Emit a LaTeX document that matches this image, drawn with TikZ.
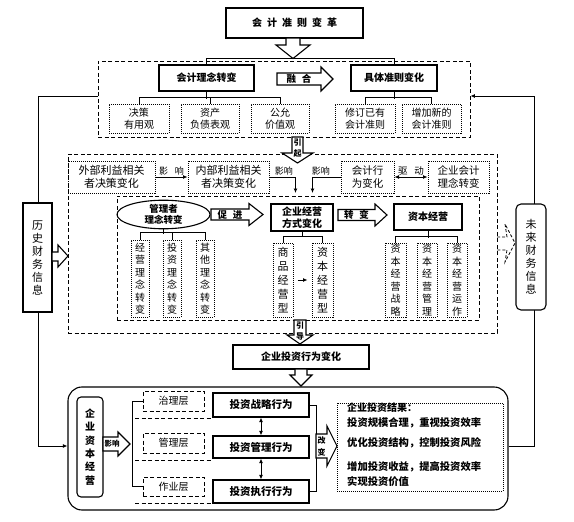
\documentclass[tikz,border=0pt]{standalone}
\usepackage{fontspec}
\setmainfont{Noto Sans CJK SC}
\usetikzlibrary{arrows.meta,shapes.geometric}
\begin{document}
\begin{tikzpicture}[x=1pt,y=-1pt,
  every node/.style={inner sep=0pt, align=center},
  reg/.style={font=\fontsize{10}{12}\selectfont},
  sbox/.style={draw, line width=1.1pt, font=\bfseries\fontsize{10}{11.5}\selectfont},
  dotbox/.style={draw, densely dotted, line width=1pt, font=\fontsize{10}{12}\selectfont},
  vbox/.style={draw, densely dotted, line width=1pt, font=\fontsize{10}{12.5}\selectfont},
  dashbox/.style={draw, dash pattern=on 4pt off 2.5pt, line width=0.9pt},
  conn/.style={line width=0.9pt},
  arr/.style={conn, -{Latex[length=4.5pt,width=4pt]}},
  darr/.style={conn, {Latex[length=4.5pt,width=4pt]}-{Latex[length=4.5pt,width=4pt]}},
  harrow/.style={draw, line width=1.1pt, fill=white, line join=miter},
  lbl/.style={font=\fontsize{9}{10}\selectfont},
  atxt/.style={font=\bfseries\fontsize{9.5}{10}\selectfont},
  stxt/.style={font=\bfseries\fontsize{8}{8}\selectfont},
]
\useasboundingbox (0,0) rectangle (574,522);

% ---------- top ----------
\node[sbox, minimum width=137, minimum height=30] (top) at (294.5,23)
  {会\hspace{5pt}计\hspace{5pt}准\hspace{5pt}则\hspace{5pt}变\hspace{5pt}革};
\node[dashbox, minimum width=372, minimum height=76] (frame1) at (284,99) {};

\node[sbox, minimum width=95, minimum height=26] (lnz) at (206.5,78) {会计理念转变};
\node[sbox, minimum width=86, minimum height=26] (jtz) at (394,78) {具体准则变化};
\draw[conn] (lnz.north) -- ++(0,-6) -| (jtz.north);
\draw[harrow] (286,38) -- (300,38) -- (300,45) -- (310,45) -- (293,58.5) -- (276,45) -- (286,45) -- cycle;

\draw[harrow] (277,73) -- (321,73) -- (321,67) -- (333,79) -- (321,91) -- (321,85) -- (277,85) -- cycle;
\node[atxt] (rh) at (299,79) {融\hspace{6pt}合};

\node[dotbox, minimum width=60, minimum height=29] (b1) at (139,118.5) {决策\\有用观};
\node[dotbox, minimum width=58, minimum height=29] (b2) at (210,118.5) {资产\\负债表观};
\node[dotbox, minimum width=58, minimum height=29] (b3) at (280,118.5) {公允\\价值观};
\node[dotbox, minimum width=60, minimum height=29] (b4) at (365,118.5) {修订已有\\会计准则};
\node[dotbox, minimum width=59, minimum height=29] (b5) at (431.5,118.5) {增加新的\\会计准则};
\draw[conn] (b1.north) -- ++(0,-6) -| (b3.north);
\draw[conn] (b2.north) -- ++(0,-6);
\draw[conn] (lnz.south) -- ++(0,7);
\draw[conn] (b4.north) -- ++(0,-6) -| (b5.north);
\draw[conn] (jtz.south) -- ++(0,7);

% ---------- middle ----------
\node[dashbox, minimum width=429, minimum height=179] (frame2) at (282.5,243.5) {};
\node[dashbox, minimum width=362, minimum height=124] (frame3) at (298,258) {};

\node[dotbox, font=\fontsize{11}{13.5}\selectfont, minimum width=87, minimum height=32] (wb) at (111.5,177) {外部利益相关\\者决策变化};
\node[dotbox, font=\fontsize{11}{13.5}\selectfont, minimum width=81, minimum height=32] (nb) at (228.5,177) {内部利益相关\\者决策变化};
\node[dotbox, font=\fontsize{10.5}{13}\selectfont, minimum width=53, minimum height=32] (kx) at (367.5,177) {会计行\\为变化};
\node[dotbox, font=\fontsize{10.5}{13}\selectfont, minimum width=61, minimum height=32] (qk) at (458.5,177) {企业会计\\理念转变};

\draw[arr] (wb.east) -- node[above=1pt, lbl]{影\hspace{7pt}响} (nb.west);
\draw[arr] (nb.east) -- node[above=1pt, lbl, pos=0.55]{影响} ++(26,0) -- ++(0,16);
\draw[arr] (kx.west) -- node[above=1pt, lbl, pos=0.7]{影响} ++(-28,0) -- ++(0,16);
\draw[darr] (kx.east) -- node[above=1.5pt, lbl, font=\fontsize{9.5}{10}\selectfont]{驱\hspace{7pt}动} (qk.west);

\draw[harrow] (292,137) -- (303,137) -- (303,153) -- (313,153) -- (297.5,163) -- (282,153) -- (292,153) -- cycle;
\node[stxt] (yq1) at (297.5,143) {引};
\node[stxt] (yq2) at (297.5,153.5) {起};

\node[draw, ellipse, line width=1.1pt, minimum width=93, minimum height=27,
      font=\bfseries\fontsize{9.5}{11}\selectfont] (gl) at (163.5,214.5) {管理者\\理念转变};
\node[vbox, minimum width=18, minimum height=77] (v1) at (140,278.5) {经\\营\\理\\念\\转\\变};
\node[vbox, minimum width=18, minimum height=77] (v2) at (172,278.5) {投\\资\\理\\念\\转\\变};
\node[vbox, minimum width=18, minimum height=77] (v3) at (205,278.5) {其\\他\\理\\念\\转\\变};
\draw[conn] (v1.north) -- ++(0,-7) -| (v3.north);
\draw[conn] (v2.north) -- ++(0,-7);
\draw[conn] (gl.south) -- ++(0,5);

\draw[harrow] (211,209) -- (249,209) -- (249,203.5) -- (263,214.5) -- (249,225.5) -- (249,220) -- (211,220) -- cycle;
\node[atxt] (cj) at (230,214.5) {促\hspace{6pt}进};

\node[sbox, minimum width=62, minimum height=27] (jyfs) at (302,217.5) {企业经营\\方式变化};
\node[vbox, font=\fontsize{11}{14}\selectfont, minimum width=20, minimum height=74] (sp) at (283,280) {商\\品\\经\\营\\型};
\node[vbox, font=\fontsize{11}{14}\selectfont, minimum width=21, minimum height=74] (zb) at (322.5,280) {资\\本\\经\\营\\型};
\draw[conn] (sp.north) -- ++(0,-6) -| (zb.north);
\draw[conn] (jyfs.south) -- ++(0,5.5);
\draw[arr, shorten <=4pt, shorten >=4pt] (sp.east) -- (zb.west);

\draw[harrow] (338,209.5) -- (375,209.5) -- (375,204) -- (387,215) -- (375,226) -- (375,220.5) -- (338,220.5) -- cycle;
\node[atxt] (zbian) at (356.5,215) {转\hspace{6pt}变};

\node[sbox, minimum width=68, minimum height=26] (zbjy) at (428,217) {资本经营};
\node[vbox, minimum width=21, minimum height=74] (c1) at (395.5,280) {资\\本\\经\\营\\战\\略};
\node[vbox, minimum width=20, minimum height=74] (c2) at (427,280) {资\\本\\经\\营\\管\\理};
\node[vbox, minimum width=20, minimum height=74] (c3) at (457,280) {资\\本\\经\\营\\运\\作};
\draw[conn] (c1.north) -- ++(0,-6) -| (c3.north);
\draw[conn] (zbjy.south) -- ++(0,7);

\draw[harrow] (294,320) -- (306,320) -- (306,335) -- (313,335) -- (300,344) -- (287,335) -- (294,335) -- cycle;
\node[stxt] (yd1) at (300,326) {引};
\node[stxt] (yd2) at (300,336.5) {导};

% dashed hollow arrow to future info
\draw[dash pattern=on 3pt off 2pt, line width=0.8pt] (497,237) -- (507,237) -- (505,224) -- (515,243) -- (505,262) -- (507,250) -- (497,250);

% ---------- bottom ----------
\node[sbox, minimum width=136, minimum height=24] (tzbh) at (301,357) {企业投资行为变化};
\draw[harrow] (295,369) -- (307,369) -- (307,375) -- (312,375) -- (301,386) -- (290,375) -- (295,375) -- cycle;

\node[draw, line width=1.1pt, rounded corners=14pt, minimum width=440, minimum height=123] (bottom) at (288,448.5) {};

% side lines
\coordinate (L1) at (38,96);
\coordinate (L2) at (38,446);
\coordinate (R1) at (534,96);
\coordinate (R2) at (534,446);
\draw[arr] ([yshift=3pt]frame1.west) -- (L1) -- (L2) -- (L2 -| bottom.west);
\draw[arr] (bottom.east |- R2) -- (R2) -- (R1) -- ([yshift=3pt]frame1.east);

\node[draw, line width=1.1pt, fill=white, minimum width=29, minimum height=109,
      font=\fontsize{11}{13}\selectfont] (hist) at (37.5,257.5) {历\\史\\财\\务\\信\\息};
\node[draw, line width=1.1pt, fill=white, rounded corners=5pt, minimum width=30, minimum height=106,
      font=\fontsize{11}{13}\selectfont] (fut) at (531,257) {未\\来\\财\\务\\信\\息};
\draw[harrow] (52,252) -- (58,252) -- (58,245) -- (68,256) -- (58,267) -- (58,261) -- (52,261) -- cycle;

\node[draw, line width=1.1pt, rounded corners=4pt, minimum width=26, minimum height=100,
      font=\bfseries\fontsize{10}{13.4}\selectfont] (qyzb) at (90,447) {企\\业\\资\\本\\经\\营};
\draw[harrow] (103,437) -- (118,437) -- (118,432) -- (130,444) -- (118,456) -- (118,451) -- (103,451) -- cycle;
\node[font=\bfseries\fontsize{7.5}{8}\selectfont] (yx) at (112,444) {影响};

\node[dashbox, reg, minimum width=61, minimum height=20] (zl) at (173.5,401) {治理层};
\node[dashbox, reg, minimum width=61, minimum height=20] (gl2) at (173.5,443) {管理层};
\node[dashbox, reg, minimum width=61, minimum height=19] (zy) at (173.5,486.5) {作业层};
\draw[conn] (zl.west) -- ++(-10,0) |- (zy.west);
\draw[dashbox] (135,418) -- (212,418);
\draw[dashbox] (135,460) -- (212,460);
\draw[dashbox] (135,503) -- (212,503);

\node[sbox, font=\bfseries\fontsize{10.5}{12}\selectfont, minimum width=96, minimum height=24] (t1) at (261,405) {投资战略行为};
\node[sbox, font=\bfseries\fontsize{10.5}{12}\selectfont, minimum width=96, minimum height=22] (t2) at (261,447) {投资管理行为};
\node[sbox, font=\bfseries\fontsize{10.5}{12}\selectfont, minimum width=96, minimum height=23] (t3) at (261,491.5) {投资执行行为};
\draw[darr] (t1.south) -- (t2.north);
\draw[darr] (t2.south) -- (t3.north);
\draw[conn] (t1.east) -- ++(7,0) |- (t3.east);

\draw[harrow] (316,434) -- (327,434) -- (327,426) -- (337,446) -- (327,466) -- (327,458) -- (316,458) -- cycle;
\node[stxt] (gb1) at (321.5,440) {改};
\node[stxt] (gb2) at (321.5,452) {变};

\node[draw, densely dotted, line width=1pt, minimum width=166, minimum height=88] (res) at (420,447) {};
\node[anchor=west, font=\bfseries\fontsize{10}{12}\selectfont] (r0) at (347,408) {企业投资结果：};
\node[anchor=west, font=\bfseries\fontsize{10.3}{12}\selectfont] (r1) at (347,423) {投资规模合理，重视投资效率};
\node[anchor=west, font=\bfseries\fontsize{10.3}{12}\selectfont] (r2) at (347,443) {优化投资结构，控制投资风险};
\node[anchor=west, font=\bfseries\fontsize{10.3}{12}\selectfont] (r3) at (347,467) {增加投资收益，提高投资效率};
\node[anchor=west, font=\bfseries\fontsize{10.3}{12}\selectfont] (r4) at (347,482) {实现投资价值};
\end{tikzpicture}
\end{document}
